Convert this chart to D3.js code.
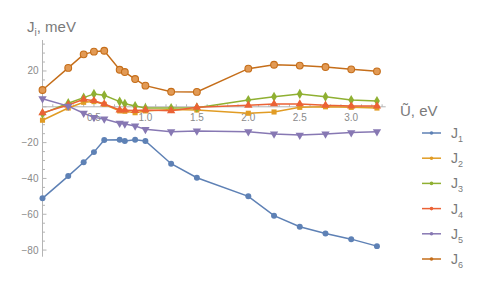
<!DOCTYPE html>
<html>
<head>
<meta charset="utf-8">
<script src="https://cdn.jsdelivr.net/npm/d3@7"></script>
<style>
  body { margin: 0; background: #fff; }
  text { font-family: "Liberation Sans", "DejaVu Sans", sans-serif; }
</style>
</head>
<body>
<div class="chart"></div>
<script>
// U~ values (eV), shared by all series
const uValues = [0, 0.25, 0.4, 0.5, 0.6, 0.75, 0.8, 0.9, 1.0, 1.25, 1.5, 2.0, 2.25, 2.5, 2.75, 3.0, 3.25]

const seriesNames = ['1', '2', '3', '4', '5', '6']
const J1 = [-51.1, -38.7, -31.0, -25.3, -18.5, -18.4, -19.1, -18.4, -19.1, -31.8, -39.6, -50.0, -60.8, -67.0, -70.7, -73.9, -77.8]
const J2 = [-7.5, -0.7, 2.5, 2.9, 1.4, -2.3, -2.5, -3.3, -2.3, -1.5, -1.8, -3.6, -2.9, -0.3, 0.0, -0.3, -0.7]
const J3 = [-3.8, 2.0, 5.1, 7.2, 6.4, 2.9, 1.7, 0.4, -0.7, -0.7, -0.5, 3.8, 5.6, 7.2, 5.6, 3.8, 3.2]
const J4 = [-3.4, 1.0, 4.2, 3.4, 1.6, -1.8, -1.9, -2.1, -1.8, -2.2, -0.3, 0.8, 1.6, 1.6, 0.8, 0.4, 0.4]
const J5 = [4.5, 0.4, -3.6, -5.9, -6.8, -9.2, -9.6, -10.7, -12.6, -13.9, -13.5, -13.9, -15.2, -15.8, -15.2, -14.4, -13.9]
const J6 = [9.4, 21.7, 29.3, 30.8, 31.3, 20.7, 19.4, 15.5, 11.8, 8.4, 8.3, 21.3, 23.5, 23.0, 22.2, 20.9, 19.8]
const series = [J1, J2, J3, J4, J5, J6]

const xTicks = [0.5, 1.0, 1.5, 2.0, 2.5, 3.0]
const yTicks = [20, 0, -20, -40, -60, -80]

const colors = ['#5E81B5', '#E19C24', '#8FB032', '#EB6235', '#8778B3', '#C56E1A']

const width = 496, height = 300

const svg = d3.select('.chart')
    .append('svg')
    .attr('width', width)
    .attr('height', height)

const x = d3.scaleLinear().domain([0, 3.335]).range([42.5, 385.7])
const y = d3.scaleLinear().domain([-83.7, 37.3]).range([256.7, 40])

const axisColor = '#b4b4b4'
const labelColor = '#8a8a8a'

// axes
const axes = svg.append('g')
axes.append('line')
    .attr('x1', x(0)).attr('x2', x(0))
    .attr('y1', y(37.3)).attr('y2', y(-83.7))
    .attr('stroke', axisColor)
axes.append('line')
    .attr('x1', x(0)).attr('x2', x(3.335))
    .attr('y1', y(0)).attr('y2', y(0))
    .attr('stroke', axisColor)

// y ticks: major 20, minor 5
d3.range(-80, 36, 5).forEach(v => {
    const major = v % 20 === 0
    axes.append('line')
        .attr('x1', x(0)).attr('x2', x(0) + (major ? 4 : 2.5))
        .attr('y1', y(v)).attr('y2', y(v))
        .attr('stroke', axisColor)
})
axes.selectAll('.ylab')
    .data(yTicks.filter(d => d !== 0))
    .enter()
    .append('text')
    .attr('x', x(0) - 4)
    .attr('y', d => y(d) + 3.5)
    .attr('text-anchor', 'end')
    .attr('font-size', 10)
    .attr('fill', labelColor)
    .text(d => d < 0 ? '\u2212' + Math.abs(d) : d)

// x ticks: major 0.5, minor 0.1
d3.range(1, 34).forEach(i => {
    const v = i / 10
    const major = i % 5 === 0
    axes.append('line')
        .attr('x1', x(v)).attr('x2', x(v))
        .attr('y1', y(0)).attr('y2', y(0) - (major ? 4 : 2.5))
        .attr('stroke', axisColor)
})
axes.selectAll('.xlab')
    .data(xTicks)
    .enter()
    .append('text')
    .attr('x', d => x(d))
    .attr('y', y(0) + 14)
    .attr('text-anchor', 'middle')
    .attr('font-size', 10)
    .attr('fill', labelColor)
    .text(d => d.toFixed(1))

// axis titles
const jt = svg.append('text')
    .attr('x', 27).attr('y', 32)
    .attr('font-size', 15)
    .attr('fill', '#7a7a7a')
jt.append('tspan').text('J')
jt.append('tspan').attr('font-size', 10).attr('dy', 4).text('i')
jt.append('tspan').attr('dy', -4).text(', meV')

svg.append('text')
    .attr('x', 400).attr('y', 116)
    .attr('font-size', 15)
    .attr('fill', '#7a7a7a')
    .text('U\u0303, eV')

// markers
const symbols = [
    d3.symbol().type(d3.symbolCircle).size(28),
    d3.symbol().type(d3.symbolSquare).size(26),
    d3.symbol().type(d3.symbolDiamond).size(30),
    d3.symbol().type(d3.symbolTriangle).size(30),
    d3.symbol().type(d3.symbolTriangle).size(30),
    d3.symbol().type(d3.symbolCircle).size(36)
]

const line = d3.line()
    .x((d, i) => x(uValues[i]))
    .y(d => y(d))

const plot = svg.append('g')
series.forEach((vals, k) => {
    const g = plot.append('g')
    g.append('path')
        .datum(vals)
        .attr('d', line)
        .attr('fill', 'none')
        .attr('stroke', colors[k])
        .attr('stroke-width', 1.5)
    g.selectAll('path.pt')
        .data(vals)
        .enter()
        .append('path')
        .attr('class', 'pt')
        .attr('d', symbols[k])
        .attr('transform', (d, i) => `translate(${x(uValues[i])},${y(d)})` + (k === 4 ? ' rotate(180)' : ''))
        .attr('fill', k === 5 ? '#E29A55' : colors[k])
        .attr('stroke', k === 5 ? colors[k] : 'none')
        .attr('stroke-width', 1.1)
})

// legend
const legend = svg.append('g')
seriesNames.forEach((name, k) => {
    const ly = 133 + k * 25.2
    legend.append('line')
        .attr('x1', 422).attr('x2', 441)
        .attr('y1', ly).attr('y2', ly)
        .attr('stroke', colors[k])
        .attr('stroke-width', 1.5)
    legend.append('circle')
        .attr('cx', 431.5).attr('cy', ly).attr('r', 1.8)
        .attr('fill', colors[k])
    const t = legend.append('text')
        .attr('x', 451).attr('y', ly + 5)
        .attr('font-size', 14)
        .attr('fill', '#7a7a7a')
    t.append('tspan').text('J')
    t.append('tspan').attr('font-size', 9).attr('dy', 4).text(name)
})
</script>
</body>
</html>
